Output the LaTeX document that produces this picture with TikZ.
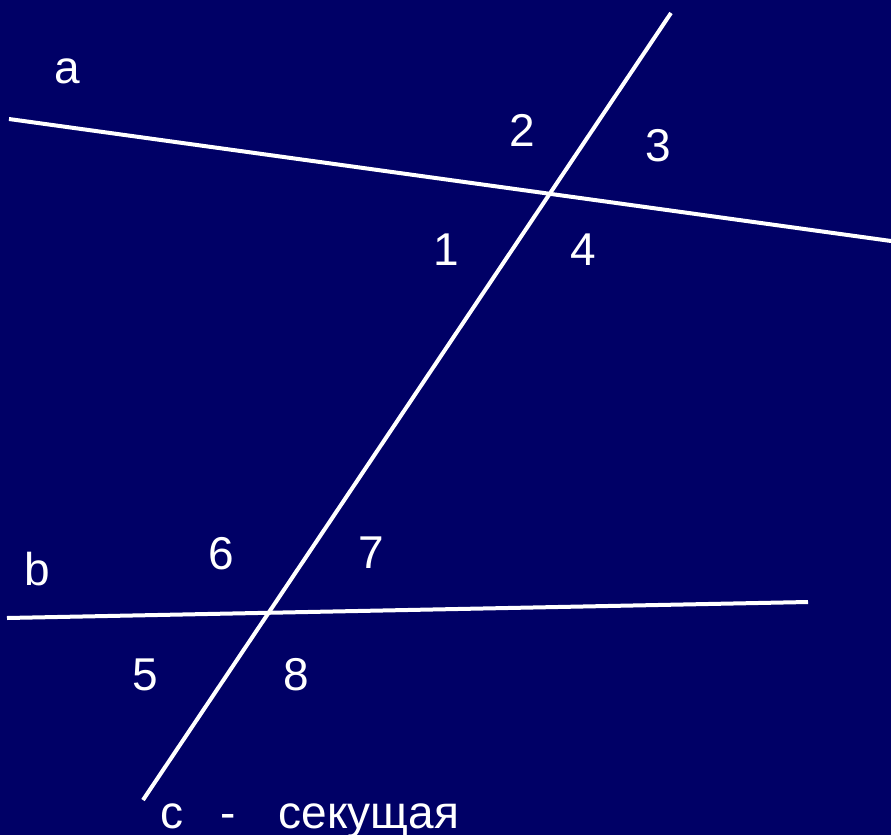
\documentclass[tikz,border=0pt]{standalone}
\usepackage{fontspec}
\setmainfont{Liberation Sans}
\definecolor{bgnavy}{RGB}{0,0,102}
\begin{document}
\begin{tikzpicture}[x=1pt,y=-1pt,
  lin/.style={white,line width=4pt},
  lbl/.style={text=white,font=\fontsize{46}{50}\selectfont,inner sep=0pt}]
\fill[bgnavy] (0,0) rectangle (891,835);
\useasboundingbox (0,0) rectangle (891,835);
\coordinate (a1) at (9,119);
\coordinate (a2) at (891,241);
\coordinate (b1) at (7,618);
\coordinate (b2) at (808,602);
\coordinate (c1) at (671,13);
\coordinate (c2) at (143,800);
\draw[lin] (a1) -- (a2);
\draw[lin] (b1) -- (b2);
\draw[lin] (c1) -- (c2);
\node[lbl] (la) at (67,71) {a};
\node[lbl] (l2) at (522,130) {2};
\node[lbl] (l3) at (658,146) {3};
\node[lbl] (l1) at (446,250) {1};
\node[lbl] (l4) at (583,250) {4};
\node[lbl] (lb) at (37,569) {b};
\node[lbl] (l6) at (221,554) {6};
\node[lbl] (l7) at (371,553) {7};
\node[lbl] (l5) at (145,675) {5};
\node[lbl] (l8) at (296,675) {8};
\node[lbl,anchor=base] (lc) at (172,828) {c};
\node[lbl,anchor=base] (ld) at (228.5,828) {-};
\node[lbl,anchor=base] (ls) at (369,828) {секущая};
\end{tikzpicture}
\end{document}
